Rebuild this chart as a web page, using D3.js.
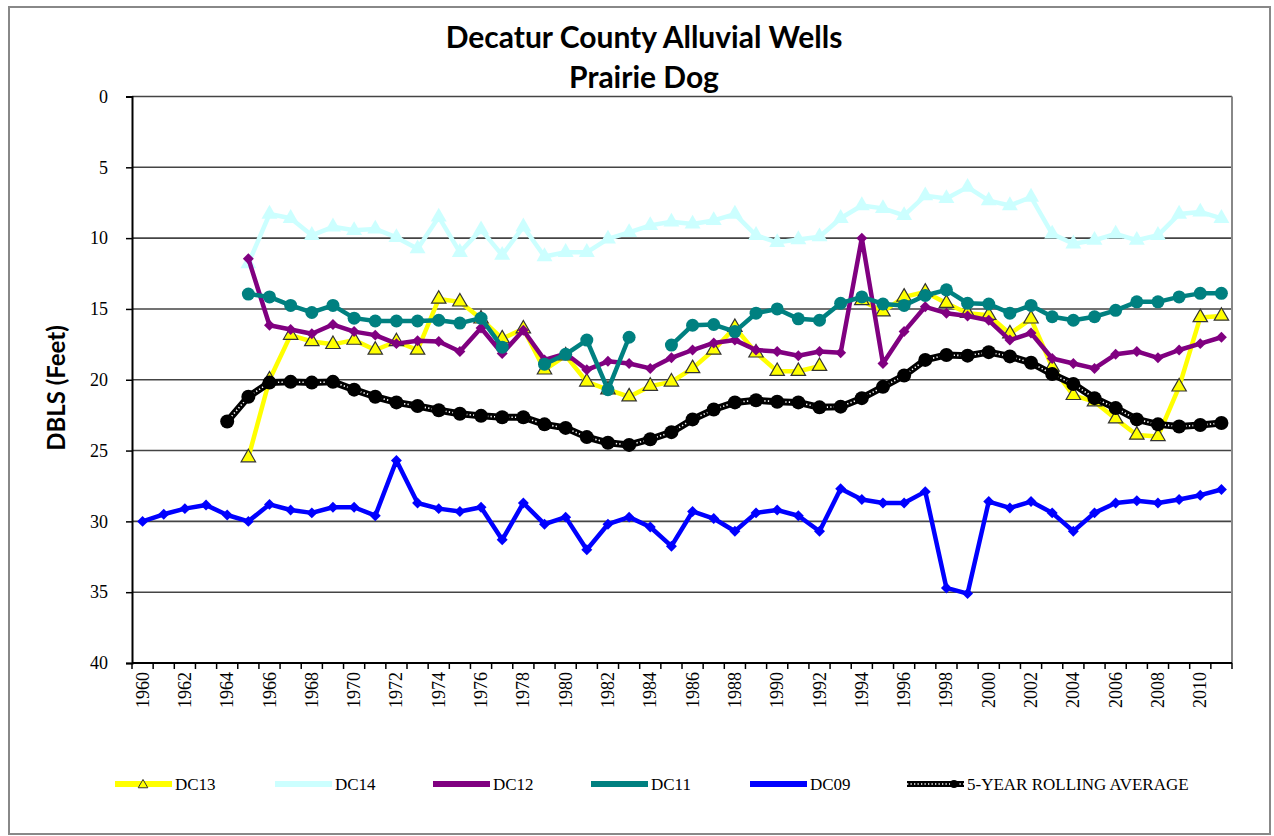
<!DOCTYPE html>
<html>
<head>
<meta charset="utf-8">
<script src="https://cdn.jsdelivr.net/npm/d3@7"></script>
<style>
  html, body { margin: 0; padding: 0; background: #fff; }
  svg { display: block; }
  .serif { font-family: "Liberation Serif", "DejaVu Serif", serif; }
  .bold-sans { font-family: Lato, "Open Sans", sans-serif; font-weight: bold; }
</style>
</head>
<body>
<svg id="chart" width="1274" height="836"></svg>
<script>
const years = d3.range(1960, 2012);
const yTicks = [0, 5, 10, 15, 20, 25, 30, 35, 40];
const xTickLabels = years.filter(y => y % 2 === 0);

// null = no reading
const dc13 = [
  null, null, null, null, null,
  25.5, 20.0, 16.85, 17.3, 17.5, 17.2, 17.9, 17.3, 17.9, 14.3,
  14.5, 15.7, 17.1, 16.4, 19.3, 18.3, 20.15, 20.7, 21.2, 20.45,
  20.15, 19.2, 17.9, 16.3, 18.1, 19.4, 19.4, 19.05, null, 14.4,
  15.2, 14.15, 13.8, 14.6, 15.3, 15.45, 16.75, 15.7, 19.1, 21.1,
  21.55, 22.75, 23.9, 24.0, 20.5, 15.6, 15.5
];
const dc14 = [
  null, null, null, null, null,
  11.8, 8.3, 8.6, 9.8, 9.2, 9.45, 9.35, 9.95, 10.75, 8.5,
  11.0, 9.4, 11.2, 9.2, 11.3, 11.0, 11.0, 10.05, 9.6, 9.1,
  8.85, 9.0, 8.75, 8.3, 9.8, 10.3, 10.1, 9.9, 8.6, 7.7,
  7.9, 8.4, 7.0, 7.2, 6.4, 7.35, 7.7, 7.1, 9.7, 10.4,
  10.15, 9.7, 10.15, 9.8, 8.3, 8.15, 8.6
];
const dc12 = [
  null, null, null, null, null,
  11.45, 16.15, 16.45, 16.75, 16.1, 16.6, 16.85, 17.45, 17.25, 17.3,
  18.0, 16.35, 18.15, 16.5, 18.6, 18.15, 19.3, 18.7, 18.85, 19.2,
  18.45, 17.9, 17.4, 17.2, 17.9, 18.0, 18.3, 18.0, 18.1, 10.0,
  18.85, 16.6, 14.85, 15.3, 15.5, 15.8, 17.2, 16.7, 18.5, 18.85,
  19.2, 18.2, 18.0, 18.45, 17.9, 17.45, 17.0
];
const dc11 = [
  null, null, null, null, null,
  13.95, 14.15, 14.75, 15.25, 14.75, 15.65, 15.85, 15.85, 15.85, 15.8,
  16.0, 15.65, 17.7, null, 18.9, 18.2, 17.2, 20.7, 17.0, null,
  17.55, 16.15, 16.1, 16.6, 15.3, 15.0, 15.7, 15.8, 14.6, 14.15,
  14.65, 14.75, 14.05, 13.65, 14.6, 14.65, 15.3, 14.75, 15.55, 15.8,
  15.55, 15.1, 14.5, 14.5, 14.15, 13.9, 13.9
];
const dc09 = [
  30.0, 29.5, 29.1, 28.85, 29.55, 30.0, 28.8, 29.2, 29.4, 29.0,
  29.0, 29.6, 25.7, 28.7, 29.1, 29.3, 29.0, 31.3, 28.7, 30.2,
  29.7, 32.0, 30.2, 29.7, 30.4, 31.75, 29.3, 29.8, 30.7, 29.4,
  29.2, 29.6, 30.7, 27.7, 28.45, 28.7, 28.7, 27.9, 34.7, 35.1,
  28.6, 29.05, 28.6, 29.4, 30.7, 29.4, 28.7, 28.55, 28.7, 28.45,
  28.15, 27.75
];
const rollingAvg = [
  null, null, null, null,
  22.95, 21.2, 20.2, 20.15, 20.2, 20.15, 20.7, 21.2, 21.6, 21.85,
  22.15, 22.4, 22.55, 22.65, 22.65, 23.15, 23.4, 24.05, 24.45, 24.6,
  24.2, 23.7, 22.8, 22.1, 21.6, 21.45, 21.55, 21.6, 21.95, 21.9,
  21.3, 20.5, 19.7, 18.6, 18.25, 18.3, 18.05, 18.35, 18.8, 19.6,
  20.3, 21.3, 22.0, 22.8, 23.15, 23.3, 23.2, 23.05
];

const seriesNames = ["DC13", "DC14", "DC12", "DC11", "DC09", "5-YEAR ROLLING AVERAGE"];
const seriesValues = [dc13, dc14, dc12, dc11, dc09, rollingAvg];
const seriesColors = ["#FFFF00", "#CCFFFF", "#800080", "#008080", "#0000FF", "#000000"];
const seriesMarkers = ["triangleOutlined", "triangle", "diamond", "circle", "diamond", "circleAvg"];

const svg = d3.select("#chart");
const plot = { left: 132, right: 1232, top: 96.5, bottom: 663 };

// outer chart border
svg.append("rect").attr("x", 9).attr("y", 7).attr("width", 1261).attr("height", 827)
  .attr("fill", "#fff").attr("stroke", "#888").attr("stroke-width", 2);

// title
svg.append("text").attr("class", "bold-sans").attr("x", 644).attr("y", 48).attr("text-anchor", "middle")
  .style("font-size", "30px").attr("fill", "#000").text("Decatur County Alluvial Wells");
svg.append("text").attr("class", "bold-sans").attr("x", 644).attr("y", 88).attr("text-anchor", "middle")
  .style("font-size", "30px").attr("fill", "#000").text("Prairie Dog");

const x = d3.scaleBand().domain(years).range([plot.left, plot.right]).paddingInner(0).paddingOuter(0);
const cx = yr => x(yr) + x.bandwidth() / 2;
const y = d3.scaleLinear().domain([0, 40]).range([plot.top, plot.bottom]);

// gridlines
svg.append("g").selectAll("line").data(yTicks.slice(0, -1)).join("line")
  .attr("x1", plot.left).attr("x2", plot.right)
  .attr("y1", d => y(d)).attr("y2", d => y(d))
  .attr("stroke", "#444").attr("stroke-width", 1.6);

// plot right border
svg.append("line").attr("x1", plot.right).attr("x2", plot.right)
  .attr("y1", plot.top).attr("y2", plot.bottom).attr("stroke", "#888").attr("stroke-width", 2);

// y axis
const yAxis = d3.axisLeft(y).tickValues(yTicks).tickSize(6).tickPadding(18);
const gy = svg.append("g").attr("transform", `translate(${plot.left},0)`).call(yAxis)
  .attr("font-family", null).attr("font-size", null);
gy.select(".domain").attr("stroke", "#000").attr("stroke-width", 2);
gy.selectAll(".tick line").attr("stroke", "#000").attr("stroke-width", 1.5);
gy.selectAll(".tick text").attr("class", "serif")
  .style("font-size", "18px").attr("fill", "#000");

// x axis: ticks at band boundaries
const gx = svg.append("g");
gx.append("line").attr("x1", plot.left).attr("x2", plot.right)
  .attr("y1", plot.bottom).attr("y2", plot.bottom).attr("stroke", "#000").attr("stroke-width", 2);
const boundaries = years.map(yr => x(yr)).concat([plot.right]);
gx.selectAll("line.tk").data(boundaries).join("line").attr("class", "tk")
  .attr("x1", d => d).attr("x2", d => d).attr("y1", plot.bottom).attr("y2", plot.bottom + 6)
  .attr("stroke", "#000").attr("stroke-width", 1.5);
gx.selectAll("text").data(xTickLabels).join("text").attr("class", "serif")
  .attr("transform", d => `translate(${cx(d) + 6},${plot.bottom + 9}) rotate(-90)`)
  .attr("text-anchor", "end")
  .style("font-size", "18px")
  .attr("fill", "#000").text(d => d);

// y axis title
svg.append("text").attr("class", "bold-sans").attr("transform", `translate(65,388) rotate(-90)`)
  .attr("text-anchor", "middle")
  .style("font-size", "24px").attr("fill", "#000").text("DBLS (Feet)");

function drawMarker(g, type, color, px, py) {
  if (type === "triangleOutlined") {
    g.append("path").attr("d", d3.symbol(d3.symbolTriangle, 90)())
      .attr("transform", `translate(${px},${py})`)
      .attr("fill", color).attr("stroke", "#333").attr("stroke-width", 1.2);
  } else if (type === "triangle") {
    g.append("path").attr("d", d3.symbol(d3.symbolTriangle, 110)())
      .attr("transform", `translate(${px},${py})`).attr("fill", color);
  } else if (type === "diamond") {
    g.append("path").attr("d", d3.symbol(d3.symbolSquare, 60)())
      .attr("transform", `translate(${px},${py}) rotate(45)`).attr("fill", color);
  } else if (type === "circle") {
    g.append("circle").attr("cx", px).attr("cy", py).attr("r", 6.5).attr("fill", color);
  } else if (type === "circleAvg") {
    g.append("circle").attr("cx", px).attr("cy", py).attr("r", 7).attr("fill", color);
  }
}

seriesValues.forEach((vals, i) => {
  const pts = years.map((yr, j) => ({ yr, v: vals[j] }));
  const line = d3.line().defined(d => d.v != null).x(d => cx(d.yr)).y(d => y(d.v));
  const g = svg.append("g");
  const color = seriesColors[i];
  if (i === 5) {
    g.append("path").attr("d", line(pts)).attr("fill", "none")
      .attr("stroke", "#000").attr("stroke-width", 7).attr("stroke-linejoin", "round");
    g.append("path").attr("d", line(pts)).attr("fill", "none")
      .attr("stroke", "#fff").attr("stroke-width", 1.6).attr("stroke-dasharray", "1.3,2.2");
  } else {
    g.append("path").attr("d", line(pts)).attr("fill", "none")
      .attr("stroke", color).attr("stroke-width", 4.5).attr("stroke-linejoin", "round");
  }
  pts.filter(d => d.v != null).forEach(d => drawMarker(g, seriesMarkers[i], color, cx(d.yr), y(d.v)));
});

// legend
const legendX = [115, 275, 433, 591, 750, 907];
const legendY = 784;
const lg = svg.append("g");
seriesNames.forEach((name, i) => {
  const x0 = legendX[i];
  const color = seriesColors[i];
  if (i === 5) {
    lg.append("line").attr("x1", x0).attr("x2", x0 + 57).attr("y1", legendY).attr("y2", legendY)
      .attr("stroke", "#000").attr("stroke-width", 6);
    lg.append("line").attr("x1", x0).attr("x2", x0 + 57).attr("y1", legendY).attr("y2", legendY)
      .attr("stroke", "#fff").attr("stroke-width", 1.4).attr("stroke-dasharray", "1.3,2.2");
    lg.append("circle").attr("cx", x0 + 47).attr("cy", legendY).attr("r", 4).attr("fill", "#000");
  } else {
    lg.append("line").attr("x1", x0).attr("x2", x0 + 57).attr("y1", legendY).attr("y2", legendY)
      .attr("stroke", color).attr("stroke-width", 6);
    if (i === 0) {
      lg.append("path").attr("d", d3.symbol(d3.symbolTriangle, 40)())
        .attr("transform", `translate(${x0 + 28},${legendY + 1})`)
        .attr("fill", color).attr("stroke", "#333").attr("stroke-width", 1);
    } else {
      lg.append("path").attr("d", d3.symbol(d3.symbolSquare, 14)())
        .attr("transform", `translate(${x0 + 28},${legendY}) rotate(45)`).attr("fill", color);
    }
  }
  lg.append("text").attr("class", "serif").attr("x", x0 + 60).attr("y", legendY + 6)
    .style("font-size", "17px").attr("fill", "#000").text(name);
});
</script>
</body>
</html>
